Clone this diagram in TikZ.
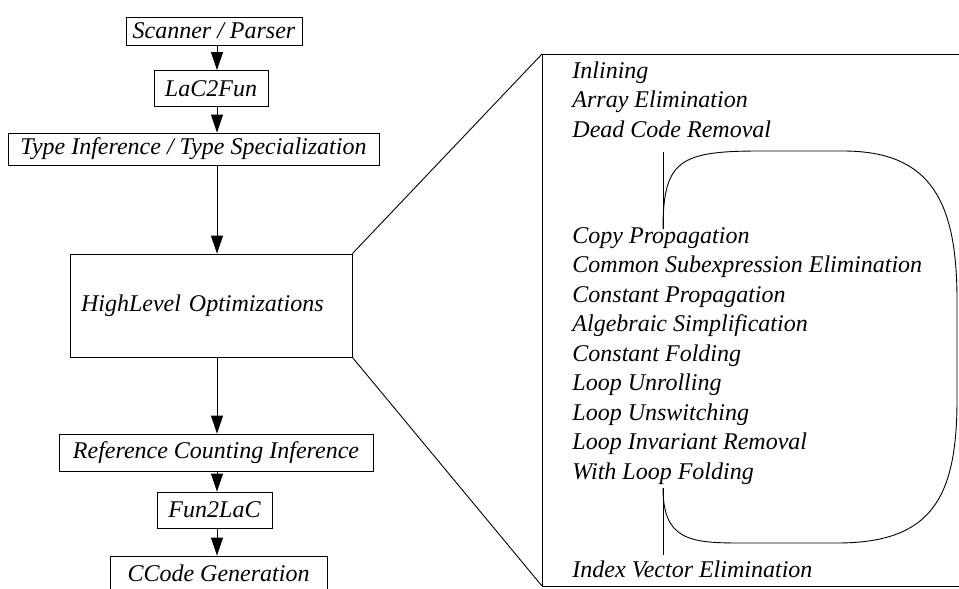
\documentclass[tikz,border=0pt]{standalone}
\usepackage{fontspec}
\setmainfont{Liberation Serif}
\usetikzlibrary{arrows.meta}

\begin{document}
\begin{tikzpicture}[x=1pt, y=-1pt, line width=0.9pt,
  font=\fontsize{24}{29.5}\selectfont\itshape,
  stage/.style={draw, inner sep=0pt, align=center},
  pass/.style={anchor=base west, inner sep=0pt},
  flow/.style={-{Triangle[length=18pt,width=12pt]}}]

\useasboundingbox (0,0) rectangle (959,589);
\clip (0,0) rectangle (959,589);

% compiler phases
\node [stage, minimum width=176, minimum height=28] (scan) at (214, 31) {Scanner / Parser};
\node [stage, minimum width=114, minimum height=36] (lac) at (211, 88.5) {LaC2Fun};
\node [stage, minimum width=371, minimum height=32] (type) at (193.5, 149) {Type Inference / Type Specialization};
\node [stage, minimum width=282, minimum height=103, inner xsep=11, text width=260, align=left] (hl) at (211, 305.5) {HighLevel Optimizations};
\node [stage, minimum width=314, minimum height=37] (ref) at (216, 452.5) {Reference Counting Inference};
\node [stage, minimum width=115, minimum height=36] (fun) at (214.5, 510) {Fun2LaC};
\node [stage, minimum width=217, minimum height=34] (ccode) at (218.5, 573) {CCode Generation};

% arrows
\coordinate (axis) at (217, 0);
\draw [flow] (scan.south -| axis) -- (lac.north -| axis);
\draw [flow] (lac.south -| axis) -- (type.north -| axis);
\draw [flow] (type.south -| axis) -- (hl.north -| axis);
\draw [flow] (hl.south -| axis) -- (ref.north -| axis);
\draw [flow] (ref.south -| axis) -- (fun.north -| axis);
\draw [flow] (fun.south -| axis) -- (ccode.north -| axis);

% zoomed window
\coordinate (zoomTL) at (542, 54);
\coordinate (zoomBL) at (542, 586);
\draw (970, 54) -- (zoomTL) -- (zoomBL) -- (970, 586);
\draw (hl.north east) -- (zoomTL);
\draw (hl.south east) -- (zoomBL);

% optimization passes
\node [pass] (inl) at (572, 78) {Inlining};
\node [pass] (arr) at (572, 107.5) {Array Elimination};
\node [pass] (dcr) at (572, 137) {Dead Code Removal};
\node [pass] (cp) at (572, 243) {Copy Propagation};
\node [pass] (cse) at (572, 272.5) {Common Subexpression Elimination};
\node [pass] (cprop) at (572, 302) {Constant Propagation};
\node [pass] (alg) at (572, 331.5) {Algebraic Simplification};
\node [pass] (cf) at (572, 361) {Constant Folding};
\node [pass] (unr) at (572, 390.5) {Loop Unrolling};
\node [pass] (uns) at (572, 420) {Loop Unswitching};
\node [pass] (lir) at (572, 449.5) {Loop Invariant Removal};
\node [pass] (wlf) at (572, 479) {With Loop Folding};
\node [pass] (ive) at (572, 577) {Index Vector Elimination};

% loop
\coordinate (loopIn) at (663, 229);
\coordinate (loopOut) at (663, 488);
\draw (663, 152) -- (loopIn);
\draw (loopOut) -- (663, 555);
\draw (loopIn) .. controls (663, 160) and (680, 151) .. (760, 151) -- (843, 151)
  .. controls (930, 151) and (957, 200) .. (957, 300) -- (957, 400)
  .. controls (957, 500) and (930, 543) .. (837, 543) -- (740, 543)
  .. controls (690, 543) and (663, 540) .. (loopOut);

\end{tikzpicture}
\end{document}
